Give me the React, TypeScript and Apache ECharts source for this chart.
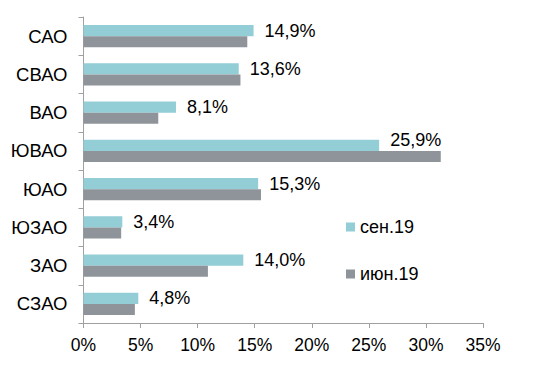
import React, { useEffect, useRef } from "react";
import * as echarts from "echarts";

const categories = ["САО", "СВАО", "ВАО", "ЮВАО", "ЮАО", "ЮЗАО", "ЗАО", "СЗАО"];
const sep19 = [14.9, 13.6, 8.1, 25.9, 15.3, 3.4, 14.0, 4.8];
const jun19 = [14.35, 13.75, 6.55, 31.3, 15.55, 3.3, 10.9, 4.5];
const seriesNames = ["сен.19", "июн.19"];

export default function App() {
  const ref = useRef<HTMLDivElement>(null);
  useEffect(() => {
    if (!ref.current) return;
    const chart = echarts.init(ref.current, null, { renderer: "svg" });
    const axisColor = "#A0A0A0";
    const font = "Liberation Sans, Arial, sans-serif";
    const sepData = sep19.map((v, i) =>
      i === 3 ? { value: v, label: { offset: [0, -5] } } : v
    );
    chart.setOption({
      animation: false,
      backgroundColor: "#ffffff",
      textStyle: { fontFamily: font },
      grid: { left: 83.5, right: 52, top: 17, bottom: 60, containLabel: false },
      legend: {
        orient: "vertical",
        left: 341,
        top: 213,
        itemWidth: 9,
        itemHeight: 9,
        itemGap: 29,
        icon: "rect",
        data: seriesNames,
        textStyle: { fontSize: 18, color: "#000", fontFamily: font, lineHeight: 18 },
      },
      xAxis: {
        type: "value",
        min: 0,
        max: 35,
        interval: 5,
        axisLine: { show: true, lineStyle: { color: axisColor } },
        axisTick: { show: true, length: 5, lineStyle: { color: axisColor } },
        splitLine: { show: false },
        axisLabel: { formatter: "{value}%", fontSize: 17.5, color: "#000", margin: 13, fontFamily: font },
      },
      yAxis: {
        type: "category",
        data: categories,
        inverse: true,
        axisLine: { show: true, lineStyle: { color: axisColor } },
        axisTick: { show: true, length: 5, alignWithLabel: false, lineStyle: { color: axisColor } },
        axisLabel: { fontSize: 18.5, color: "#000", margin: 16, fontFamily: font },
      },
      series: [
        {
          name: seriesNames[0],
          type: "bar",
          data: sepData,
          barGap: "0%",
          barCategoryGap: "42%",
          itemStyle: { color: "#93CDD6" },
          label: {
            show: true,
            position: "right",
            distance: 11,
            fontSize: 18,
            color: "#000",
            fontFamily: font,
            formatter: (p: any) => p.value.toFixed(1).replace(".", ",") + "%",
          },
        },
        {
          name: seriesNames[1],
          type: "bar",
          data: jun19,
          barGap: "0%",
          barCategoryGap: "42%",
          itemStyle: { color: "#8E9499" },
        },
      ],
    });
    return () => chart.dispose();
  }, []);
  return (
    <div
      ref={ref}
      style={{ position: "fixed", left: 0, top: 0, width: 535, height: 383, background: "#fff" }}
    />
  );
}
